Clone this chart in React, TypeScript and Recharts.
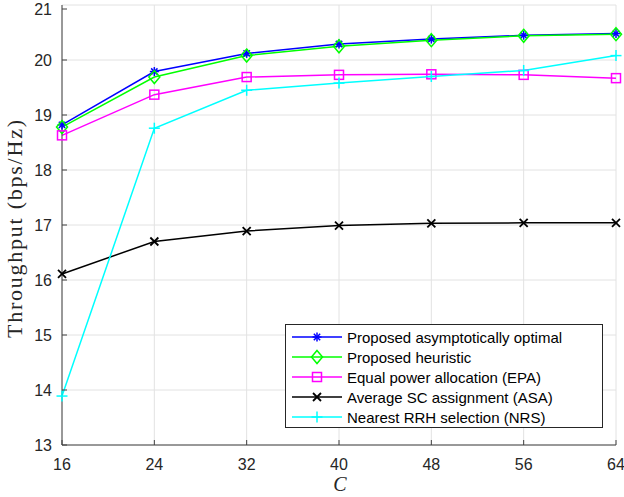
import { CartesianGrid, Label, Legend, Line, LineChart, XAxis, YAxis } from "recharts";

const cValues = [16, 24, 32, 40, 48, 56, 64];
const optimal = [18.82, 19.79, 20.12, 20.29, 20.38, 20.45, 20.48];
const heuristic = [18.78, 19.69, 20.08, 20.25, 20.36, 20.44, 20.47];
const epa = [18.63, 19.37, 19.69, 19.73, 19.74, 19.73, 19.67];
const asa = [16.11, 16.7, 16.89, 16.99, 17.03, 17.04, 17.04];
const nrs = [13.89, 18.76, 19.45, 19.58, 19.7, 19.81, 20.08];

const xTicks = [16, 24, 32, 40, 48, 56, 64];
const yTicks = [13, 14, 15, 16, 17, 18, 19, 20, 21];

const data = cValues.map((c, i) => ({
  c,
  optimal: optimal[i],
  heuristic: heuristic[i],
  epa: epa[i],
  asa: asa[i],
  nrs: nrs[i],
}));

const AXIS = "#404040";
const SANS = '"Liberation Sans", Arial, Helvetica, sans-serif';
const SERIF = '"Liberation Serif", "Times New Roman", serif';

type Shape = "star" | "diamond" | "square" | "cross" | "plus";

function Marker({ cx, cy, shape, color }: { cx: number; cy: number; shape: Shape; color: string }) {
  const p = { stroke: color, strokeWidth: 1.5, fill: "none" };
  if (shape === "star") {
    const r = 4.5;
    const d = r * 0.707;
    return (
      <g {...p}>
        <line x1={cx - r} y1={cy} x2={cx + r} y2={cy} />
        <line x1={cx} y1={cy - r} x2={cx} y2={cy + r} />
        <line x1={cx - d} y1={cy - d} x2={cx + d} y2={cy + d} />
        <line x1={cx - d} y1={cy + d} x2={cx + d} y2={cy - d} />
      </g>
    );
  }
  if (shape === "diamond") {
    return <path {...p} d={`M${cx},${cy - 6.5}L${cx + 5.5},${cy}L${cx},${cy + 6.5}L${cx - 5.5},${cy}Z`} />;
  }
  if (shape === "square") {
    return <rect {...p} x={cx - 4.5} y={cy - 4.5} width={9} height={9} />;
  }
  if (shape === "cross") {
    const r = 4;
    return (
      <g {...p} strokeWidth={1.8}>
        <line x1={cx - r} y1={cy - r} x2={cx + r} y2={cy + r} />
        <line x1={cx - r} y1={cy + r} x2={cx + r} y2={cy - r} />
      </g>
    );
  }
  const r = 5.5;
  return (
    <g {...p}>
      <line x1={cx - r} y1={cy} x2={cx + r} y2={cy} />
      <line x1={cx} y1={cy - r} x2={cx} y2={cy + r} />
    </g>
  );
}

const series: { key: string; name: string; color: string; shape: Shape }[] = [
  { key: "optimal", name: "Proposed asymptotically optimal", color: "#0000ff", shape: "star" },
  { key: "heuristic", name: "Proposed heuristic", color: "#00ff00", shape: "diamond" },
  { key: "epa", name: "Equal power allocation (EPA)", color: "#ff00ff", shape: "square" },
  { key: "asa", name: "Average SC assignment (ASA)", color: "#000000", shape: "cross" },
  { key: "nrs", name: "Nearest RRH selection (NRS)", color: "#00ffff", shape: "plus" },
];

function BottomTick({ x, y, payload }: any) {
  return (
    <g>
      <line x1={x} y1={y} x2={x} y2={y - 5} stroke={AXIS} />
      <text x={x} y={y + 25} textAnchor="middle" fontFamily={SANS} fontSize={16} fill="#262626">
        {payload.value}
      </text>
    </g>
  );
}

function TopTick({ x, y }: any) {
  return <line x1={x} y1={y} x2={x} y2={y + 5} stroke={AXIS} />;
}

function LeftTick({ x, y, payload }: any) {
  return (
    <g>
      <line x1={x} y1={y} x2={x + 5} y2={y} stroke={AXIS} />
      <text x={x - 10} y={y + 6} textAnchor="end" fontFamily={SANS} fontSize={16} fill="#262626">
        {payload.value}
      </text>
    </g>
  );
}

function RightTick({ x, y }: any) {
  return <line x1={x} y1={y} x2={x - 5} y2={y} stroke={AXIS} />;
}

function LegendBox() {
  return (
    <div
      style={{
        border: "1px solid #262626",
        background: "#fff",
        width: 318,
        height: 104,
        paddingTop: 2,
        boxSizing: "border-box",
        fontFamily: SANS,
        fontSize: 15,
        color: "#000",
      }}
    >
      {series.map((s) => (
        <div key={s.key} style={{ display: "flex", alignItems: "center", height: 20 }}>
          <svg width={61} height={20} style={{ flex: "none" }}>
            <line x1={6} y1={10} x2={56} y2={10} stroke={s.color} strokeWidth={1.5} />
            <Marker cx={31} cy={10} shape={s.shape} color={s.color} />
          </svg>
          <span style={{ whiteSpace: "nowrap" }}>{s.name}</span>
        </div>
      ))}
    </div>
  );
}

export default function App() {
  return (
    <div style={{ position: "absolute", left: 0, top: 0, background: "#fff" }}>
      <LineChart width={624} height={497} data={data} margin={{ top: 5, right: 8, bottom: 0, left: 0 }}>
        <CartesianGrid stroke="#e2e2e2" />
        <XAxis
          dataKey="c"
          type="number"
          domain={[16, 64]}
          ticks={xTicks}
          height={52}
          tickLine={false}
          tickSize={0}
          tickMargin={0}
          tick={<BottomTick />}
          axisLine={{ stroke: AXIS }}
        >
          <Label
            content={() => (
              <text x={340} y={491} textAnchor="middle" fontFamily={SERIF} fontStyle="italic" fontSize={20} fill="#262626">
                C
              </text>
            )}
          />
        </XAxis>
        <XAxis
          xAxisId="top"
          orientation="top"
          dataKey="c"
          type="number"
          domain={[16, 64]}
          ticks={xTicks}
          height={0}
          tickLine={false}
          tickSize={0}
          tickMargin={0}
          tick={<TopTick />}
          axisLine={{ stroke: AXIS }}
        />
        <YAxis
          type="number"
          domain={[13, 21]}
          ticks={yTicks}
          width={62}
          tickLine={false}
          tickSize={0}
          tickMargin={0}
          tick={<LeftTick />}
          axisLine={{ stroke: AXIS }}
        >
          <Label
            content={() => (
              <text
                x={22}
                y={229}
                transform="rotate(-90 22 229)"
                textAnchor="middle"
                fontFamily={SERIF}
                fontSize={22}
                textLength={218}
                lengthAdjust="spacing"
                fill="#262626"
              >
                Throughput (bps/Hz)
              </text>
            )}
          />
        </YAxis>
        <YAxis
          yAxisId="right"
          orientation="right"
          type="number"
          domain={[13, 21]}
          ticks={yTicks}
          width={0}
          tickLine={false}
          tickSize={0}
          tickMargin={0}
          tick={<RightTick />}
          axisLine={{ stroke: AXIS }}
        />
        {series.map((s) => (
          <Line
            key={s.key}
            dataKey={s.key}
            name={s.name}
            type="linear"
            stroke={s.color}
            strokeWidth={1.5}
            isAnimationActive={false}
            activeDot={false}
            dot={(props: any) => (
              <Marker key={`${s.key}-${props.index}`} cx={props.cx} cy={props.cy} shape={s.shape} color={s.color} />
            )}
          />
        ))}
        <Legend
          layout="horizontal"
          verticalAlign="middle"
          align="center"
          wrapperStyle={{ left: 285, top: 324, width: 318, height: 104 }}
          content={() => <LegendBox />}
        />
      </LineChart>
    </div>
  );
}
